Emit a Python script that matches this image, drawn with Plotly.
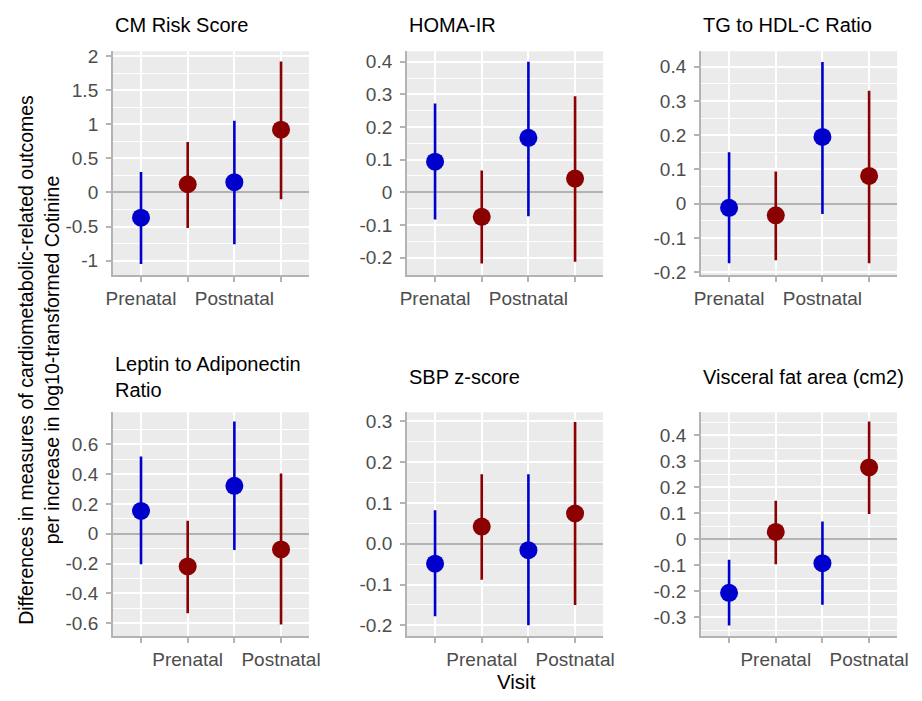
import plotly.graph_objects as go

# ---------------- data ----------------
outcomes = ["CM Risk Score", "HOMA-IR", "TG to HDL-C Ratio",
            "Leptin to Adiponectin<br>Ratio", "SBP z-score", "Visceral fat area (cm2)"]
positions = [1, 2, 3, 4]
point_colors = ["blue", "red", "blue", "red"]

est_cm = [-0.37, 0.12, 0.15, 0.92]
lo_cm = [-1.05, -0.52, -0.76, -0.10]
hi_cm = [0.30, 0.74, 1.05, 1.92]

est_homa = [0.094, -0.075, 0.167, 0.042]
lo_homa = [-0.083, -0.218, -0.073, -0.213]
hi_homa = [0.272, 0.067, 0.400, 0.294]

est_tg = [-0.012, -0.034, 0.195, 0.081]
lo_tg = [-0.174, -0.165, -0.030, -0.174]
hi_tg = [0.150, 0.094, 0.414, 0.330]

est_lep = [0.153, -0.219, 0.322, -0.105]
lo_lep = [-0.204, -0.532, -0.109, -0.609]
hi_lep = [0.519, 0.088, 0.753, 0.405]

est_sbp = [-0.049, 0.042, -0.016, 0.074]
lo_sbp = [-0.178, -0.088, -0.200, -0.150]
hi_sbp = [0.082, 0.170, 0.170, 0.298]

est_vfa = [-0.206, 0.028, -0.092, 0.276]
lo_vfa = [-0.332, -0.096, -0.252, 0.097]
hi_vfa = [-0.079, 0.148, 0.068, 0.453]

ytick_cm = ["-1", "-0.5", "0", "0.5", "1", "1.5", "2"]
ytick_homa = ["-0.2", "-0.1", "0", "0.1", "0.2", "0.3", "0.4"]
ytick_tg = ["-0.2", "-0.1", "0", "0.1", "0.2", "0.3", "0.4"]
ytick_lep = ["-0.6", "-0.4", "-0.2", "0", "0.2", "0.4", "0.6"]
ytick_sbp = ["-0.2", "-0.1", "0.0", "0.1", "0.2", "0.3"]
ytick_vfa = ["-0.3", "-0.2", "-0.1", "0", "0.1", "0.2", "0.3", "0.4"]

xtick_top = ["Prenatal", "", "Postnatal", ""]
xtick_bottom = ["", "Prenatal", "", "Postnatal"]

# ---------------- layout helpers ----------------
# page has an 8px body margin; figure is sized so the page fits the window
PAGE_W, PAGE_H, OFF = 922, 701, 8
W, H = PAGE_W - 2 * OFF, PAGE_H - 2 * OFF


def fx(p):
    return (p - OFF) / W


def fy(p):
    return 1 - (p - OFF) / H


COLORS = {"blue": "#0000CD", "red": "#8B0000"}
FONT = "Liberation Sans, Arial, sans-serif"

panels = [
    (est_cm, lo_cm, hi_cm, ytick_cm, xtick_top, (-1.21, 2.07)),
    (est_homa, lo_homa, hi_homa, ytick_homa, xtick_top, (-0.253, 0.432)),
    (est_tg, lo_tg, hi_tg, ytick_tg, xtick_top, (-0.208, 0.445)),
    (est_lep, lo_lep, hi_lep, ytick_lep, xtick_bottom, (-0.685, 0.815)),
    (est_sbp, lo_sbp, hi_sbp, ytick_sbp, xtick_bottom, (-0.226, 0.322)),
    (est_vfa, lo_vfa, hi_vfa, ytick_vfa, xtick_bottom, (-0.372, 0.488)),
]

col_px = [(108, 308), (408, 608), (708, 908)]
row_px = [(47, 275), (415, 643)]
title_y_px = [20, 379]

fig = go.Figure()
annotations = []

for i, (est, lo, hi, ylabels, xlabels, yr) in enumerate(panels):
    r, c = divmod(i, 3)
    ax = "" if i == 0 else str(i + 1)
    x0, x1 = col_px[c]
    y0, y1 = row_px[r]
    xdom = [fx(x0), fx(x1)]
    ydom = [fy(y1), fy(y0)]
    yvals = [float(v) for v in ylabels]
    step = yvals[1] - yvals[0]
    minor_vals = [v - step / 2 for v in yvals] + [yvals[-1] + step / 2]
    minor_vals = [m for m in minor_vals if yr[0] <= m <= yr[1]]

    for j in range(4):
        col = COLORS[point_colors[j]]
        fig.add_trace(go.Scatter(
            x=[positions[j]], y=[est[j]], mode="markers",
            marker=dict(color=col, size=18),
            error_y=dict(type="data", symmetric=False,
                         array=[hi[j] - est[j]], arrayminus=[est[j] - lo[j]],
                         color=col, thickness=2.6, width=0),
            xaxis="x" + ax, yaxis="y" + ax, showlegend=False,
            hoverinfo="skip"))

    fig.layout["xaxis" + ax] = dict(
        domain=xdom, anchor="y" + ax, range=[0.4, 4.6],
        tickmode="array", tickvals=positions, ticktext=xlabels,
        showgrid=True, gridcolor="white", gridwidth=2,
        zeroline=False, showline=True, linecolor="#B3B3B3", linewidth=2,
        ticks="outside", ticklen=5, tickwidth=2, tickcolor="#B3B3B3",
        tickfont=dict(family=FONT, size=19, color="#4D4D4D"),
        fixedrange=True)
    fig.layout["yaxis" + ax] = dict(
        domain=ydom, anchor="x" + ax, range=list(yr),
        tickmode="array", tickvals=yvals, ticktext=ylabels,
        showgrid=True, gridcolor="white", gridwidth=2,
        minor=dict(tickvals=minor_vals, showgrid=True, gridcolor="white",
                   gridwidth=1, ticks=""),
        zeroline=True, zerolinecolor="#B3B3B3", zerolinewidth=2,
        showline=True, linecolor="#B3B3B3", linewidth=2,
        ticks="outside", ticklen=5, tickwidth=2, tickcolor="#B3B3B3",
        ticklabelstandoff=4,
        tickfont=dict(family=FONT, size=19, color="#4D4D4D"),
        fixedrange=True)

    fig.add_shape(type="rect", xref="x" + ax + " domain", yref="y" + ax + " domain",
                  x0=0, x1=1, y0=0, y1=1, fillcolor="#EBEBEB",
                  line=dict(width=0), layer="below")

    annotations.append(dict(
        text=outcomes[i], xref="paper", yref="paper",
        x=xdom[0], y=fy(title_y_px[r]), xanchor="left", yanchor="middle",
        align="left", showarrow=False,
        font=dict(family=FONT, size=20, color="black")))

annotations.append(dict(
    text="Differences in measures of cardiometabolic-related outcomes<br>per increase in log10-transformed Cotinine",
    xref="paper", yref="paper", x=fx(32), y=fy(362), textangle=-90,
    xanchor="center", yanchor="middle", showarrow=False,
    font=dict(family=FONT, size=19.5, color="black")))
annotations.append(dict(
    text="Visit", xref="paper", yref="paper", x=fx(520), y=fy(689),
    xanchor="center", yanchor="middle", showarrow=False,
    font=dict(family=FONT, size=20.5, color="black")))

fig.update_layout(
    width=W, height=H, margin=dict(l=0, r=0, t=0, b=0),
    paper_bgcolor="white", plot_bgcolor="rgba(0,0,0,0)",
    annotations=annotations, showlegend=False)

fig.write_html("out.html")
